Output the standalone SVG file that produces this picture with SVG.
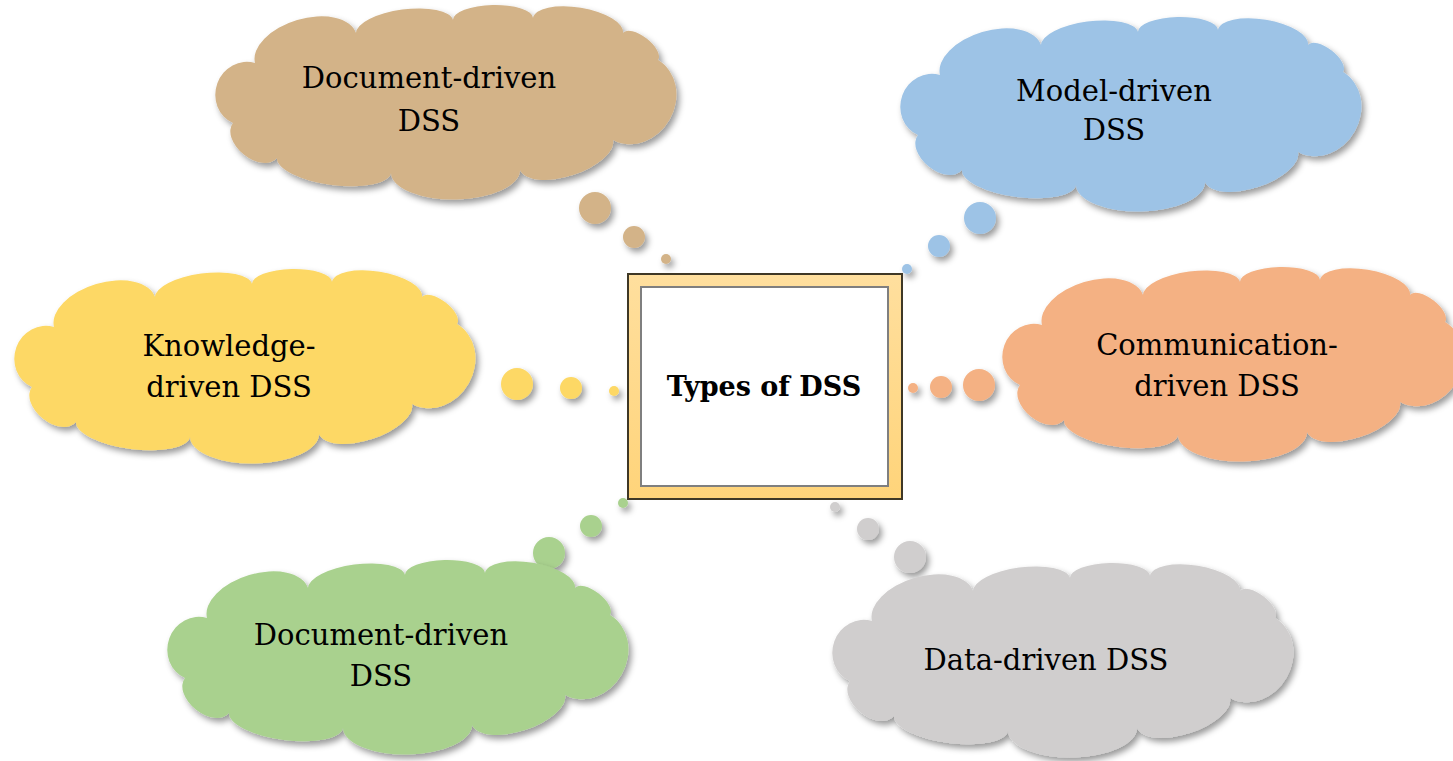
<svg xmlns="http://www.w3.org/2000/svg" xmlns:xlink="http://www.w3.org/1999/xlink" width="1453" height="761" viewBox="0 0 1453 761">
<style>
  .lbl { font-family: "DejaVu Serif", "Liberation Serif", serif; font-size: 29px; fill: #000; text-anchor: middle; }
  .ttl { font-family: "DejaVu Serif", "Liberation Serif", serif; font-size: 27px; font-weight: bold; fill: #000; text-anchor: middle; }
</style>
<defs>
  <filter id="sh" x="-15%" y="-15%" width="135%" height="140%">
    <feDropShadow dx="3" dy="4" stdDeviation="3" flood-color="#000" flood-opacity="0.4"/>
  </filter>
  <path id="cloud" d="M 20 115 A 32 30 -69.9 0 1 42 55 A 52.7 30 -16.5 0 1 143 25 A 49 18 -7.6 0 1 240 12 A 40 14 -1.4 0 1 320 10 A 45.6 18 9.5 0 1 410 25 A 22.1 10 37.6 0 1 445 52 A 45.9 40 119.4 0 1 400 132 A 48.9 22 162.1 0 1 307 162 A 64.5 28 178.7 0 1 178 165 A 57.5 20 -172.5 0 1 64 150 A 28.1 18 -141.5 0 1 20 115 Z"/>
  <linearGradient id="boxg" x1="0" y1="0" x2="0" y2="1">
    <stop offset="0" stop-color="#FFDF9E"/>
    <stop offset="1" stop-color="#FFD47A"/>
  </linearGradient>
</defs>
<rect width="1453" height="761" fill="#FFFFFF"/>

<g id="connectors" filter="url(#sh)">
  <circle cx="595" cy="208" r="16" fill="#D3B388"/>
  <circle cx="634" cy="237" r="11" fill="#D3B388"/>
  <circle cx="666" cy="259" r="5" fill="#D3B388"/>
  <circle cx="980" cy="218" r="16" fill="#9DC3E6"/>
  <circle cx="939" cy="246" r="11" fill="#9DC3E6"/>
  <circle cx="907" cy="269" r="5" fill="#9DC3E6"/>
  <circle cx="517" cy="384" r="16" fill="#FDD865"/>
  <circle cx="571" cy="388" r="11" fill="#FDD865"/>
  <circle cx="614" cy="391" r="5" fill="#FDD865"/>
  <circle cx="913" cy="388" r="5" fill="#F4B183"/>
  <circle cx="941" cy="387" r="11" fill="#F4B183"/>
  <circle cx="979" cy="385" r="16" fill="#F4B183"/>
  <circle cx="623" cy="503" r="5" fill="#A9D18E"/>
  <circle cx="591" cy="526" r="11" fill="#A9D18E"/>
  <circle cx="549" cy="553" r="16" fill="#A9D18E"/>
  <circle cx="835" cy="507" r="5" fill="#D0CECE"/>
  <circle cx="868" cy="529" r="11" fill="#D0CECE"/>
  <circle cx="910" cy="557" r="16" fill="#D0CECE"/>
</g>

<g id="node-document-top">
  <use xlink:href="#cloud" href="#cloud" transform="translate(213,8)" fill="#D3B388" filter="url(#sh)"/>
  <text class="lbl" x="429" y="88">Document-driven</text>
  <text class="lbl" x="429" y="131">DSS</text>
</g>

<g id="node-model">
  <use xlink:href="#cloud" href="#cloud" transform="translate(898,20)" fill="#9DC3E6" filter="url(#sh)"/>
  <text class="lbl" x="1114" y="101">Model-driven</text>
  <text class="lbl" x="1114" y="140">DSS</text>
</g>

<g id="node-knowledge">
  <use xlink:href="#cloud" href="#cloud" transform="translate(12,272)" fill="#FDD865" filter="url(#sh)"/>
  <text class="lbl" x="229" y="356">Knowledge-</text>
  <text class="lbl" x="229" y="397">driven DSS</text>
</g>

<g id="node-communication">
  <use xlink:href="#cloud" href="#cloud" transform="translate(1000,270)" fill="#F4B183" filter="url(#sh)"/>
  <text class="lbl" x="1217" y="355">Communication-</text>
  <text class="lbl" x="1217" y="396">driven DSS</text>
</g>

<g id="node-document-bottom">
  <use xlink:href="#cloud" href="#cloud" transform="translate(165,563)" fill="#A9D18E" filter="url(#sh)"/>
  <text class="lbl" x="381" y="645">Document-driven</text>
  <text class="lbl" x="381" y="686">DSS</text>
</g>

<g id="node-data">
  <use xlink:href="#cloud" href="#cloud" transform="translate(830,566)" fill="#D0CECE" filter="url(#sh)"/>
  <text class="lbl" x="1046" y="670">Data-driven DSS</text>
</g>

<g id="node-center">
  <rect x="628" y="274" width="274" height="225" fill="url(#boxg)" stroke="#3F3826" stroke-width="2"/>
  <rect x="641" y="287" width="247" height="199" fill="#FFFFFF" stroke="#7F7F7F" stroke-width="2"/>
  <text class="ttl" x="764" y="396">Types of DSS</text>
</g>
</svg>
